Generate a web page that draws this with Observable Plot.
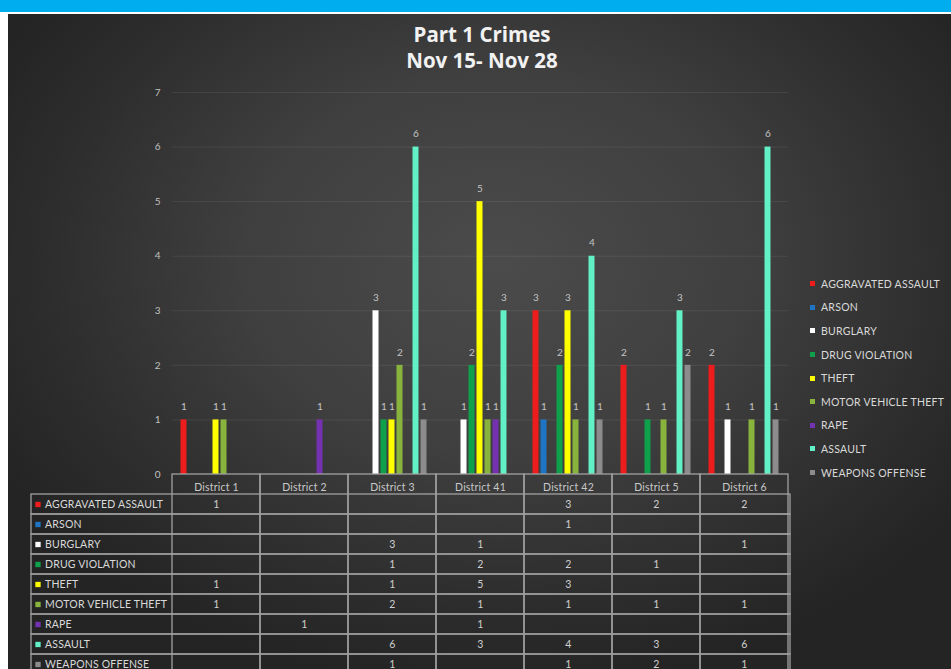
<!DOCTYPE html>
<html>
<head>
<meta charset="utf-8">
<script src="https://cdn.jsdelivr.net/npm/d3@7"></script>
<script src="https://cdn.jsdelivr.net/npm/@observablehq/plot@0.6"></script>
<style>
  html, body { margin: 0; padding: 0; background: #ffffff; overflow: hidden; }
  #page { position: relative; width: 951px; height: 669px; overflow: hidden; background: #ffffff; }
  #band { position: absolute; left: 0; top: 0; width: 951px; height: 12px; background: #00aeef; }
  #panel { position: absolute; left: 8px; top: 14px; right: 0; bottom: 0;
    background: radial-gradient(ellipse 60% 65% at 52% 38%, #4b4b4b 0%, #3f3f3f 45%, #2d2d2d 80%, #242424 100%); }
  #title { position: absolute; left: 0; top: 21px; width: 964px; text-align: center;
    font-family: "Open Sans", Lato, sans-serif; font-weight: bold; font-size: 20.5px; line-height: 26px; color: #f2f2f2; }
  .abs { position: absolute; }
  .abs svg { overflow: visible; }
  #legend { position: absolute; left: 810px; top: 272px; font-family: Lato, "Open Sans", sans-serif;
    font-size: 10.5px; letter-spacing: 0.25px; color: #d9d9d9; }
  #legend .item { height: 23.6px; display: flex; align-items: center; white-space: nowrap; }
  #legend .sw { width: 5px; height: 5px; margin-right: 6px; flex: none; }
</style>
</head>
<body>
<div id="page">
  <div id="band"></div>
  <div id="panel"></div>
  <div id="title">Part 1 Crimes<br>Nov 15- Nov 28</div>
  <div id="chart" class="abs" style="left:0;top:0"></div>
  <div id="table" class="abs" style="left:0;top:474px"></div>
  <div id="legend"></div>
</div>
<script>
// ---- data ----
const districts = ["District 1", "District 2", "District 3", "District 41", "District 42", "District 5", "District 6"];
const crimes = ["AGGRAVATED ASSAULT", "ARSON", "BURGLARY", "DRUG VIOLATION", "THEFT", "MOTOR VEHICLE THEFT", "RAPE", "ASSAULT", "WEAPONS OFFENSE"];
const crimeColors = ["#ee1c1c", "#1f74c4", "#ffffff", "#0fa04c", "#ffff00", "#88b43e", "#7431b0", "#62f0c6", "#8c8c8c"];
// values per district (same order as districts); null = blank cell
const aggravatedAssault = [1, null, null, null, 3, 2, 2];
const arson             = [null, null, null, null, 1, null, null];
const burglary          = [null, null, 3, 1, null, null, 1];
const drugViolation     = [null, null, 1, 2, 2, 1, null];
const theft             = [1, null, 1, 5, 3, null, null];
const motorVehicleTheft = [1, null, 2, 1, 1, 1, 1];
const rape              = [null, 1, null, 1, null, null, null];
const assault           = [null, null, 6, 3, 4, 3, 6];
const weaponsOffense    = [null, null, 1, null, 1, 2, 1];
const yTicks = [0, 1, 2, 3, 4, 5, 6, 7];

const series = [aggravatedAssault, arson, burglary, drugViolation, theft, motorVehicleTheft, rape, assault, weaponsOffense];
const rows = crimes.flatMap((c, i) => districts.map((d, j) => ({crime: c, district: d, value: series[i][j]})))
  .filter(r => r.value != null);

const fontFam = "Lato, 'Open Sans', sans-serif";
const gridColor = "#a0a0a0";
const colorScale = {domain: crimes, range: crimeColors};

// ---- chart ----
const chart = Plot.plot({
  width: 951, height: 476,
  marginLeft: 170.5, marginRight: 161, marginTop: 92, marginBottom: 2,
  style: {background: "transparent", color: "#c0c0c0", fontFamily: fontFam, fontSize: "10px"},
  facet: {data: rows, x: "district"},
  fx: {domain: districts, padding: 0, axis: null},
  x: {domain: crimes, paddingInner: 0.2, paddingOuter: 0.52, axis: null},
  y: {domain: [0, 7], ticks: yTicks, tickSize: 0, tickPadding: 12, label: null, tickFormat: d => d},
  color: colorScale,
  marks: [
    Plot.ruleY(yTicks.filter(t => t > 0), {stroke: "#ffffff", strokeOpacity: 0.08}),
    Plot.barY(rows, {x: "crime", y: "value", fill: "crime"}),
    Plot.text(rows, {x: "crime", y: "value", text: "value", dy: -13, fill: "#c4c4c4"})
  ]
});
document.getElementById("chart").appendChild(chart);

// ---- data table ----
const table = Plot.plot({
  width: 951, height: 201,
  marginLeft: 170.5, marginRight: 161, marginTop: 18.5, marginBottom: 0,
  style: {background: "transparent", color: "#d0d0d0", fontFamily: fontFam, fontSize: "10.5px", letterSpacing: "0.2px"},
  x: {domain: districts, padding: 0, axis: null},
  y: {domain: crimes, padding: 0, axis: null},
  color: colorScale,
  marks: [
    Plot.cell(crimes, {y: d => d, fill: "none", stroke: gridColor, strokeWidth: 1.3, insetLeft: -139.5}),
    Plot.cell(districts, {x: d => d, fill: "none", stroke: gridColor, strokeWidth: 1.3, insetTop: -18.5}),
    Plot.text(districts, {x: d => d, frameAnchor: "top", dy: -9, text: d => d, fill: "#c8c8c8"}),
    Plot.text(rows, {x: "district", y: "crime", text: "value", fill: "#cfcfcf"}),
    Plot.dot(crimes, {y: d => d, frameAnchor: "left", dx: -133, symbol: "square", r: 3, fill: d => d, stroke: null}),
    Plot.text(crimes, {y: d => d, frameAnchor: "left", dx: -126, textAnchor: "start", text: d => d, fill: "#d9d9d9"})
  ]
});
document.getElementById("table").appendChild(table);

// ---- legend (built from the same arrays) ----
const legendEl = document.getElementById("legend");
crimes.forEach((c, i) => {
  const item = document.createElement("div");
  item.className = "item";
  const sw = document.createElement("span");
  sw.className = "sw";
  sw.style.background = crimeColors[i];
  const label = document.createElement("span");
  label.textContent = c;
  item.appendChild(sw);
  item.appendChild(label);
  legendEl.appendChild(item);
});
</script>
</body>
</html>
